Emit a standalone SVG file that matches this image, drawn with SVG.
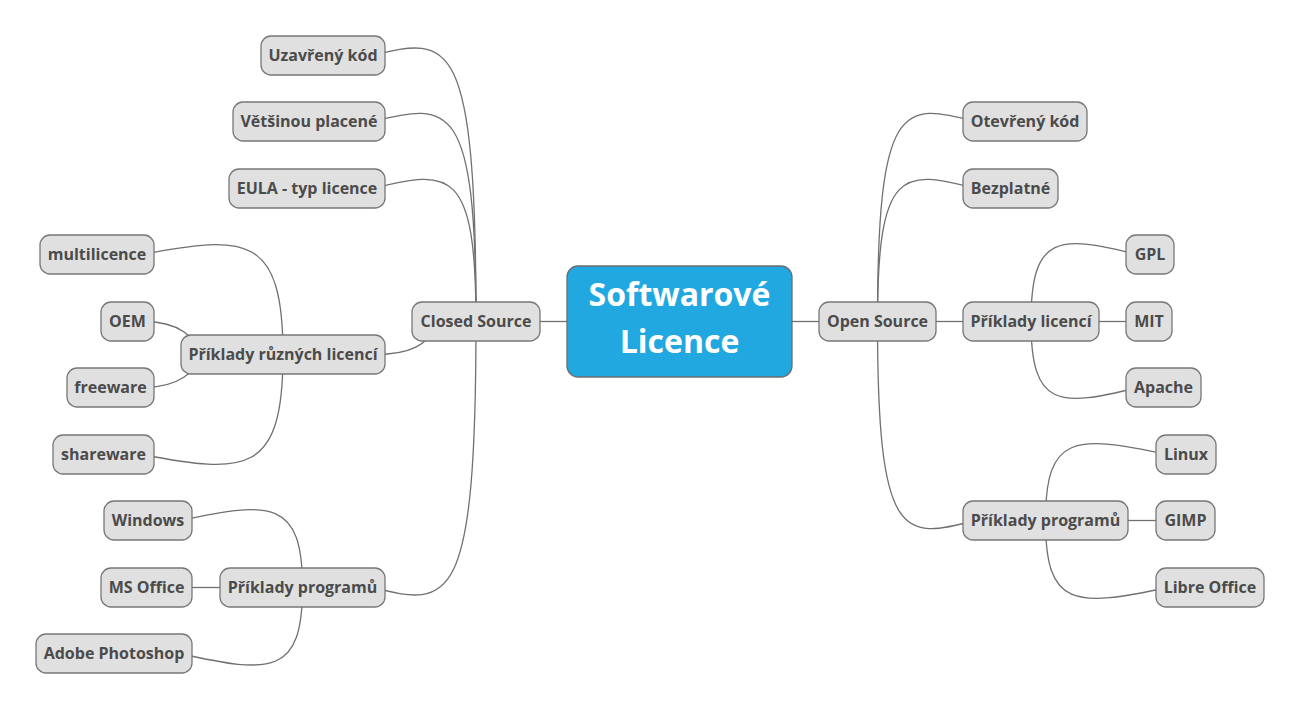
<svg xmlns="http://www.w3.org/2000/svg" width="1302" height="712" viewBox="0 0 1302 712">
<style>
.c{fill:none;stroke:#707070;stroke-width:1.3}
.n rect{fill:#e0e0e0;stroke:#777;stroke-width:1.3}
.n text{font-family:"Open Sans","Noto Sans",sans-serif;font-weight:bold;font-size:16px;fill:#4b4b4b;text-anchor:middle}
#root rect{fill:#22a8e0;stroke:#6e6e6e;stroke-width:1.3}
#root text{font-family:"Open Sans","Noto Sans",sans-serif;font-weight:bold;font-size:32px;fill:#fff;text-anchor:middle}
</style>
<rect width="1302" height="712" fill="#fff"/>
<g id="connectors">
<path class="c" d="M540,321.5H567"/>
<path class="c" d="M792,321.5H819"/>
<path class="c" d="M936,321.5H963"/>
<path class="c" d="M1099,321.5H1126"/>
<path class="c" d="M1128,520.5H1156"/>
<path class="c" d="M192,587.5H220"/>
<path class="c" d="M476,321.5C476,35.5 450.5,35.5 373,55.5"/>
<path class="c" d="M476,321.5C476,101.5 450.5,101.5 373,121.5"/>
<path class="c" d="M476,321.5C476,168.5 450.5,168.5 373,188.5"/>
<path class="c" d="M476,321.5C476,607.5 450.5,607.5 373,587.5"/>
<path class="c" d="M432,330C428,343 412,354.5 375,354.5"/>
<path class="c" d="M283,354.5C283,234.5 246,234.5 142,254.5"/>
<path class="c" d="M283,354.5C283,474.5 246,474.5 142,454.5"/>
<path class="c" d="M200,352C195,338 180,322 145,321.5"/>
<path class="c" d="M200,357C195,371 180,387 145,387.5"/>
<path class="c" d="M302.5,587.5C302.5,500.5 272,500.5 180,520.5"/>
<path class="c" d="M302.5,587.5C302.5,674.5 272,674.5 180,653.5"/>
<path class="c" d="M877.5,321.5C877.5,101.5 902,101.5 975,121.5"/>
<path class="c" d="M877.5,321.5C877.5,168.5 902,168.5 975,188.5"/>
<path class="c" d="M877.5,321.5C877.5,540.5 902,540.5 975,520.5"/>
<path class="c" d="M1031,321.5C1031,234.5 1058,234.5 1138,254.5"/>
<path class="c" d="M1031,321.5C1031,407.5 1058,407.5 1138,387.5"/>
<path class="c" d="M1045.5,520.5C1045.5,434.5 1074,434.5 1168,454.5"/>
<path class="c" d="M1045.5,520.5C1045.5,607.5 1074,607.5 1168,587.5"/>
</g>
<g id="root"><rect x="567" y="266" width="225" height="111" rx="11"/><text x="679.5" y="306">Softwarové</text><text x="679.5" y="353">Licence</text></g>
<g id="closed" class="n"><rect x="412" y="302" width="128" height="39" rx="10"/><text x="476" y="327">Closed Source</text></g>
<g id="open" class="n"><rect x="819" y="302" width="117" height="39" rx="10"/><text x="877.5" y="327">Open Source</text></g>
<g id="uzavreny" class="n"><rect x="261" y="36" width="124" height="39" rx="10"/><text x="323" y="61">Uzavřený kód</text></g>
<g id="vetsinou" class="n"><rect x="233" y="102" width="152" height="39" rx="10"/><text x="309" y="127">Většinou placené</text></g>
<g id="eula" class="n"><rect x="229" y="169" width="156" height="39" rx="10"/><text x="307" y="194">EULA - typ licence</text></g>
<g id="ruznych" class="n"><rect x="181" y="335" width="204" height="39" rx="10"/><text x="283" y="360">Příklady různých licencí</text></g>
<g id="programuL" class="n"><rect x="220" y="568" width="165" height="39" rx="10"/><text x="302.5" y="593">Příklady programů</text></g>
<g id="multilicence" class="n"><rect x="40" y="235" width="114" height="39" rx="10"/><text x="97" y="260">multilicence</text></g>
<g id="oem" class="n"><rect x="101" y="302" width="53" height="39" rx="10"/><text x="127.5" y="327">OEM</text></g>
<g id="freeware" class="n"><rect x="67" y="368" width="87" height="39" rx="10"/><text x="110.5" y="393">freeware</text></g>
<g id="shareware" class="n"><rect x="53" y="435" width="101" height="39" rx="10"/><text x="103.5" y="460">shareware</text></g>
<g id="windows" class="n"><rect x="104" y="501" width="88" height="39" rx="10"/><text x="148" y="526">Windows</text></g>
<g id="msoffice" class="n"><rect x="101" y="568" width="91" height="39" rx="10"/><text x="146.5" y="593">MS Office</text></g>
<g id="photoshop" class="n"><rect x="36" y="634" width="156" height="39" rx="10"/><text x="114" y="659">Adobe Photoshop</text></g>
<g id="otevreny" class="n"><rect x="963" y="102" width="124" height="39" rx="10"/><text x="1025" y="127">Otevřený kód</text></g>
<g id="bezplatne" class="n"><rect x="963" y="169" width="95" height="39" rx="10"/><text x="1010.5" y="194">Bezplatné</text></g>
<g id="licenci" class="n"><rect x="963" y="302" width="136" height="39" rx="10"/><text x="1031" y="327">Příklady licencí</text></g>
<g id="programuR" class="n"><rect x="963" y="501" width="165" height="39" rx="10"/><text x="1045.5" y="526">Příklady programů</text></g>
<g id="gpl" class="n"><rect x="1126" y="235" width="48" height="39" rx="10"/><text x="1150" y="260">GPL</text></g>
<g id="mit" class="n"><rect x="1126" y="302" width="46" height="39" rx="10"/><text x="1149" y="327">MIT</text></g>
<g id="apache" class="n"><rect x="1126" y="368" width="75" height="39" rx="10"/><text x="1163.5" y="393">Apache</text></g>
<g id="linux" class="n"><rect x="1156" y="435" width="60" height="39" rx="10"/><text x="1186" y="460">Linux</text></g>
<g id="gimp" class="n"><rect x="1156" y="501" width="59" height="39" rx="10"/><text x="1185.5" y="526">GIMP</text></g>
<g id="libre" class="n"><rect x="1156" y="568" width="108" height="39" rx="10"/><text x="1210" y="593">Libre Office</text></g>
</svg>
